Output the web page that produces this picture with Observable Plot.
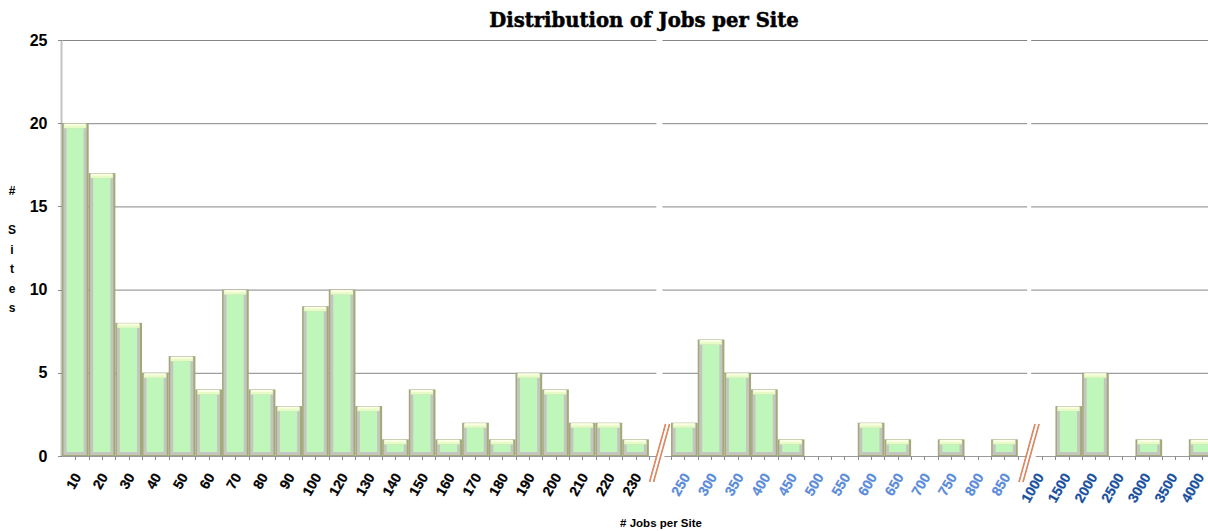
<!DOCTYPE html>
<html>
<head>
<meta charset="utf-8">
<script src="https://cdn.jsdelivr.net/npm/d3@7"></script>
<script src="https://cdn.jsdelivr.net/npm/@observablehq/plot@0.6"></script>
<style>
html,body{margin:0;padding:0;overflow:hidden;background:#fff}
#wrap{position:relative;width:1208px;height:531px}
#title{position:absolute;top:8px;left:0;width:1288px;text-align:center;font-family:"DejaVu Serif",serif;font-weight:bold;font-size:19.6px;line-height:26px;color:#000;-webkit-text-stroke:0.5px #000}
#ylab{position:absolute;left:4px;top:182px;width:16px;text-align:center;font-family:"Liberation Sans",sans-serif;font-weight:bold;font-size:12px;line-height:19.5px;color:#000}
#xlab{position:absolute;left:0;top:515px;width:1322px;text-align:center;font-family:"Liberation Sans",sans-serif;font-weight:bold;font-size:11.5px;line-height:16px;color:#000}
#chart{position:absolute;left:0;top:0}
</style>
</head>
<body>
<div id="wrap">
  <div id="chart"></div>
  <div id="title">Distribution of Jobs per Site</div>
  <div id="ylab">#<br>&nbsp;<br>S<br>i<br>t<br>e<br>s</div>
  <div id="xlab"># Jobs per Site</div>
</div>
<script>
// ---- data ----
const cats1 = ["10","20","30","40","50","60","70","80","90","100","120","130","140","150","160","170","180","190","200","210","220","230"];
const vals1 = [20,17,8,5,6,4,10,4,3,9,10,3,1,4,1,2,1,5,4,2,2,1];
const cats2 = ["250","300","350","400","450","500","550","600","650","700","750","800","850"];
const vals2 = [2,7,5,4,1,0,0,2,1,0,1,0,1];
const cats3 = ["1000","1500","2000","2500","3000","3500","4000"];
const vals3 = [0,3,5,0,1,0,1];
const yTicks = [0,5,10,15,20,25];
const labelColors = ["#000000","#5a8bd8","#174f9e"];

// ---- layout (in band units) ----
const panelStart = [0, 22.83, 36.24];
const gridSegs = [[0,22.28],[22.51,36.18],[36.33,43.3]];
const axisSegs = [[0,22.28],[22.58,36.18],[36.5,43.3]];
const breakAt = [22.40, 36.25];

const groups = [[cats1,vals1],[cats2,vals2],[cats3,vals3]];
const rows = [];
groups.forEach(([cats, vals], g) => {
  cats.forEach((c, i) => {
    const x1 = panelStart[g] + i;
    rows.push({g, label: c, v: vals[i], x1, x2: x1 + 1, xc: x1 + 0.5});
  });
});
const bars = rows.filter(d => d.v > 0);

const tickPos = [];
groups.forEach(([cats], g) => {
  for (let k = (g === 0 ? 1 : 0); k <= 2 * cats.length; k++) tickPos.push(panelStart[g] + k / 2);
});

const gridRows = [];
yTicks.filter(t => t > 0).forEach(t => gridSegs.forEach(([a,b]) => gridRows.push({y: t, a, b})));
const axisRows = axisSegs.map(([a,b]) => ({y: 0, a, b}));

function decorations(index, scales, values, dimensions) {
  const ns = "http://www.w3.org/2000/svg";
  const g = document.createElementNS(ns, "g");
  const sx = scales.x, sy = scales.y;
  const y0 = sy(0);
  const line = (x1, y1, x2, y2, stroke, w) => {
    const l = document.createElementNS(ns, "line");
    l.setAttribute("x1", x1); l.setAttribute("y1", y1);
    l.setAttribute("x2", x2); l.setAttribute("y2", y2);
    l.setAttribute("stroke", stroke); l.setAttribute("stroke-width", w);
    g.appendChild(l);
  };
  // x tick marks
  tickPos.forEach(t => { const x = Math.round(sx(t)) + 0.5; line(x, y0, x, y0 + 4, "#8c8c8c", 1); });
  // y tick marks
  yTicks.forEach(t => { const y = Math.round(sy(t)) + 0.5; line(sx(0) - 4, y, sx(0), y, "#8c8c8c", 1); });
  // break markers
  breakAt.forEach(b => {
    const cx = sx(b), cy = y0 - 3;
    [-2, 2].forEach(o => {
      line(cx + o - 8, cy + 29, cx + o + 8, cy - 29, "#c88aa0", 1.6);
      line(cx + o - 8, cy + 29, cx + o + 8, cy - 29, "#ee8a2e", 0.9);
    });
  });
  return g;
}

const font = "Liberation Sans, Arial, sans-serif";
const chart = Plot.plot({
  width: 1208,
  height: 531,
  marginLeft: 62,
  marginRight: 0,
  marginTop: 40,
  marginBottom: 75,
  x: {type: "linear", domain: [0, 43.24], range: [62, 1215.5], axis: null},
  y: {domain: [0, 25], range: [456, 40], axis: null},
  marks: [
    Plot.ruleY(gridRows, {y: "y", x1: "a", x2: "b", stroke: "#868686", strokeWidth: 1}),
    Plot.ruleX([0], {x: d => d, y1: 0, y2: 25, stroke: "#c4c4c4", strokeWidth: 2, dx: -1}),
    // bars (bevelled look)
    Plot.rect(bars, {x1: "x1", x2: "x2", y1: 0, y2: "v", fill: "#a2a878"}),
    Plot.rect(bars, {x1: "x1", x2: "x2", y1: 0, y2: "v", fill: "#c5c5c0", insetLeft: 1.5, insetRight: 2, insetTop: 0.5, insetBottom: 1}),
    Plot.rect(bars, {x1: "x1", x2: "x2", y1: 0, y2: "v", fill: "#bff6b9", insetLeft: 4.5, insetRight: 5, insetTop: 5, insetBottom: 4}),
    Plot.rect(bars, {x1: "x1", x2: "x2", y1: "v", y2: "v", fill: "#e6fcc4", insetLeft: 2, insetRight: 2.5, insetTop: 1, insetBottom: -5}),
    Plot.rect(bars, {x1: "x1", x2: "x2", y1: "v", y2: "v", fill: "#fbffe6", insetLeft: 2.5, insetRight: 3, insetTop: 0.5, insetBottom: -2.5}),
    Plot.ruleY(axisRows, {y: "y", x1: "a", x2: "b", stroke: "#9a9a9a", strokeWidth: 1}),
    decorations,
    // y tick labels
    Plot.text(yTicks, {frameAnchor: "left", y: d => d, text: d => String(d), textAnchor: "end", dx: -15, fontSize: 16, fontWeight: "bold", fontFamily: font, fill: "#000"}),
    // x tick labels per panel
    ...[0,1,2].map(g => Plot.text(rows.filter(d => d.g === g), {
      x: "xc", y: () => 0, text: "label", rotate: -60, textAnchor: "end", lineAnchor: "middle",
      dx: g === 2 ? -2 : 2, dy: 18, fontSize: 14, fontWeight: "bold", fontFamily: font,
      fill: labelColors[g], stroke: labelColors[g], strokeWidth: 0.25
    }))
  ]
});
document.getElementById("chart").appendChild(chart);
</script>
</body>
</html>
